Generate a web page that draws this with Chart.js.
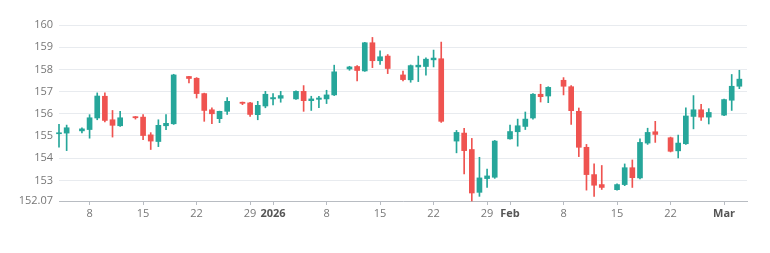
<!DOCTYPE html>
<html>
<head>
<meta charset="utf-8">
<script src="https://cdn.jsdelivr.net/npm/chart.js@4.4.1/dist/chart.umd.min.js"></script>
<style>
  html, body { margin: 0; padding: 0; background: #fff; }
  #wrap { width: 770px; height: 253px; position: relative; }
</style>
</head>
<body>
<div id="wrap"><canvas id="c"></canvas></div>
<script>
// Day numbers counted from 1 Dec 2025 (= day 1)
const days = [4,5,7,8,9,10,11,12,14,15,16,17,18,19,21,22,23,24,25,26,28,29,30,31,
  32,33,35,36,37,38,39,40,42,43,44,45,46,47,49,50,51,52,53,54,56,57,58,59,60,61,
  63,64,65,66,67,68,70,71,72,73,74,75,77,78,79,80,81,82,84,85,86,87,88,89,
  91,92,93];
const opens = [155.10,155.13,155.23,155.29,155.81,156.79,155.73,155.46,155.87,155.85,155.05,154.75,155.46,155.55,157.68,157.60,156.91,156.18,155.78,156.11,156.52,156.49,155.96,156.35,
  156.67,156.70,156.67,157.01,156.59,156.65,156.67,156.85,158.02,158.13,157.93,159.20,158.39,158.60,157.75,157.53,158.11,158.13,158.43,158.48,154.77,155.13,154.39,152.46,153.08,153.14,
  154.87,155.19,155.43,155.81,156.88,156.80,157.51,157.22,156.11,154.49,153.26,152.81,152.58,152.81,153.57,153.11,154.68,155.19,154.92,154.33,154.65,155.88,156.18,155.85,
  155.94,156.61,157.24];
const highs = [155.52,155.49,155.37,155.96,156.94,156.94,156.15,156.11,155.88,155.96,155.15,155.73,155.96,157.78,157.69,157.63,156.93,156.27,156.12,156.73,156.53,156.52,156.56,157.01,
  156.91,157.01,157.03,157.27,156.79,156.79,157.06,158.19,158.14,158.17,159.22,159.44,158.84,158.67,157.92,158.20,158.60,158.52,158.87,159.23,155.25,155.34,154.89,154.04,153.51,154.80,
  155.49,155.76,156.08,156.91,157.33,157.22,157.63,157.27,156.26,154.62,153.74,153.67,152.84,153.74,153.92,154.87,155.35,155.66,154.95,155.04,156.27,156.82,156.43,156.23,
  156.66,157.77,157.96];
const lows = [154.49,154.34,155.14,154.90,155.73,155.63,154.95,155.43,155.76,154.83,154.39,154.52,155.28,155.52,157.39,156.71,155.66,155.55,155.60,155.97,156.41,155.88,155.73,156.27,
  156.40,156.52,156.65,156.11,156.15,156.27,156.46,156.82,157.96,157.48,157.91,158.08,158.22,157.81,157.48,157.42,157.45,157.74,158.11,155.61,154.24,153.29,152.07,152.28,152.68,153.09,
  154.86,154.54,155.29,155.76,156.53,156.50,156.85,155.52,154.07,152.56,152.28,152.59,152.56,152.76,152.68,153.06,154.62,154.71,154.28,154.01,154.62,155.32,155.70,155.54,
  155.92,156.15,157.13];
const closes = [155.14,155.37,155.32,155.82,156.80,155.70,155.48,155.82,155.82,155.02,154.77,155.48,155.57,157.75,157.59,156.91,156.15,156.00,156.11,156.56,156.47,155.97,156.38,156.88,
  156.73,156.82,157.01,156.59,156.67,156.71,156.85,157.89,158.11,157.95,159.20,158.39,158.57,158.04,157.54,158.17,158.19,158.46,158.51,155.66,155.16,154.34,152.43,153.11,153.20,154.77,
  155.20,155.46,155.76,156.88,156.77,157.19,157.24,156.14,154.49,153.26,152.78,152.68,152.81,153.57,153.12,154.71,155.16,155.07,154.31,154.68,155.90,156.18,155.85,156.06,
  156.64,157.24,157.56];

const xTickDays   = [8, 15, 22, 29, 32, 39, 46, 53, 60, 63, 70, 77, 84, 91];
const xTickLabels = ['8','15','22','29','2026','8','15','22','29','Feb','8','15','22','Mar'];
const xMajorLabels = ['2026','Feb','Mar'];
const yTicks = [152.07, 153, 154, 155, 156, 157, 158, 159, 160];

const UP = '#26a69a', DOWN = '#ef5350';
const colors = days.map((d, i) => closes[i] >= opens[i] ? UP : DOWN);
const bodies = days.map((d, i) => ({x: d, y: [opens[i], closes[i]]}));
const wicks = days.map((d, i) => ({x: d, y: [lows[i], highs[i]]}));

const FONT = '"Open Sans", "Noto Sans", sans-serif';
const isMajor = ctx => ctx.tick && xMajorLabels.includes(xTickLabels[xTickDays.indexOf(ctx.tick.value)]);

new Chart(document.getElementById('c'), {
  type: 'bar',
  data: {
    datasets: [
      { label: 'body', data: bodies, backgroundColor: colors, borderWidth: 0,
        barThickness: 5, grouped: false, minBarLength: 1, order: 0, clip: false },
      { label: 'wick', data: wicks, backgroundColor: colors, borderWidth: 0,
        barThickness: 1, grouped: false, minBarLength: 1, order: 1, clip: false }
    ]
  },
  options: {
    responsive: true,
    maintainAspectRatio: false,
    animation: false,
    layout: { padding: { left: 0, right: 23, top: 25, bottom: 0 } },
    plugins: { legend: { display: false }, tooltip: { enabled: false } },
    scales: {
      x: {
        type: 'linear',
        min: 4, max: 94,
        offset: false,
        afterFit: s => { s.height = 52; },
        afterBuildTicks: s => { s.ticks = xTickDays.map(v => ({ value: v })); },
        grid: { drawOnChartArea: false, drawTicks: true, tickLength: 4, color: '#b8bcc2', offset: false },
        border: { display: true, color: '#b8bcc2' },
        ticks: {
          autoSkip: false, maxRotation: 0, padding: 2,
          color: ctx => isMajor(ctx) ? '#555' : '#777',
          font: ctx => ({ family: FONT, size: 11, weight: isMajor(ctx) ? 'bold' : 'normal' }),
          callback: v => { const i = xTickDays.indexOf(v); return i >= 0 ? xTickLabels[i] : ''; }
        }
      },
      y: {
        min: 152.07, max: 160,
        beginAtZero: false,
        afterFit: s => { s.width = 59; },
        afterBuildTicks: s => { s.ticks = yTicks.map(v => ({ value: v })); },
        grid: { color: '#e8ebef', drawTicks: false },
        border: { display: false },
        ticks: {
          padding: 6, color: '#777',
          font: { family: FONT, size: 11 },
          callback: v => Number.isInteger(v) ? String(v) : v.toFixed(2)
        }
      }
    }
  }
});
</script>
</body>
</html>
